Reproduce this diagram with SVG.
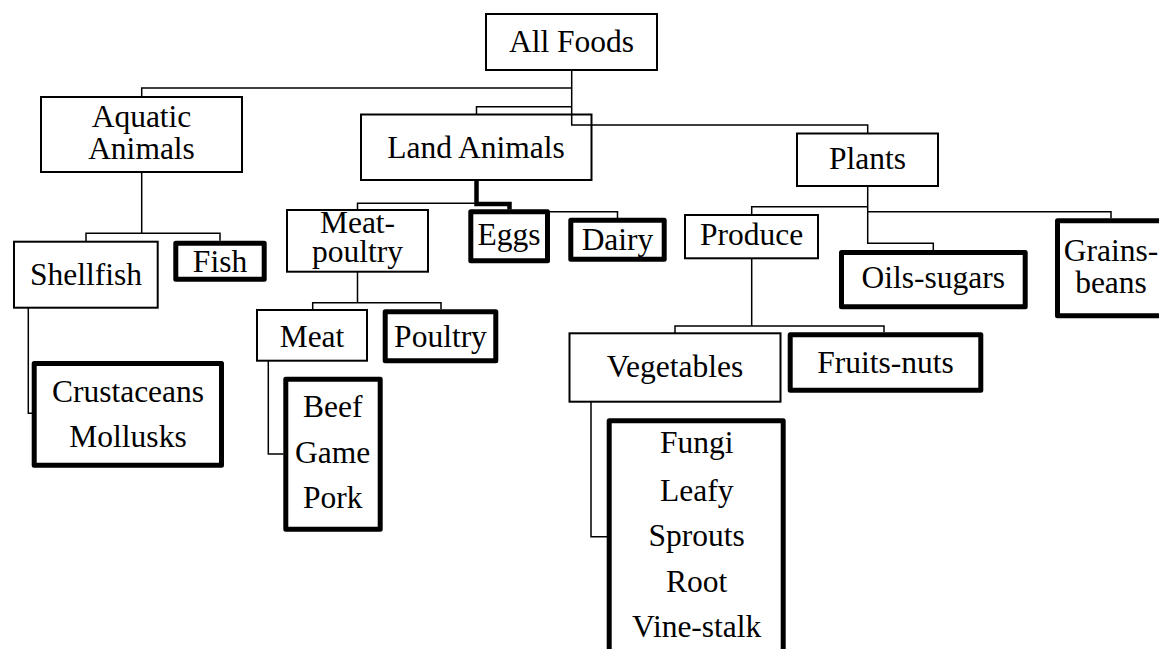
<svg xmlns="http://www.w3.org/2000/svg" width="1159" height="649" viewBox="0 0 1159 649">
<style>
.thin{fill:#fff;stroke:#000;stroke-width:2}
.thick{fill:#fff;stroke:#000;stroke-width:5;stroke-linejoin:round}
.c{fill:none;stroke:#000;stroke-width:1.5}
.ct{fill:none;stroke:#000;stroke-width:4.5}
</style>
<rect width="1159" height="649" fill="#fff"/>
<g id="nodes" font-family="Times New Roman, Liberation Serif, DejaVu Serif, serif" font-size="31.5" text-anchor="middle" fill="#000">
<g id="all-foods"><rect class="thin" x="486" y="14" width="171" height="56"/><text x="571.5" y="52">All Foods</text></g>
<g id="aquatic"><rect class="thin" x="41" y="97" width="201" height="75"/><text x="141.5" y="127">Aquatic</text><text x="141.5" y="159">Animals</text></g>
<g id="land"><rect class="thin" x="361" y="114.5" width="230.5" height="65.5"/><text x="476" y="158.3">Land Animals</text></g>
<g id="plants"><rect class="thin" x="797" y="133.5" width="141" height="52.5"/><text x="867.5" y="169.3">Plants</text></g>
<g id="shellfish"><rect class="thin" x="14" y="241.7" width="143.7" height="66"/><text x="86" y="285">Shellfish</text></g>
<g id="fish"><rect class="thick" x="175.8" y="243.2" width="88.4" height="36"/><text x="220" y="271.7">Fish</text></g>
<g id="crustaceans"><rect class="thick" x="34.2" y="363.5" width="187.3" height="101.7"/><text x="128" y="401.7">Crustaceans</text><text x="128" y="446.7">Mollusks</text></g>
<g id="meat-poultry"><rect class="thin" x="287" y="210" width="141" height="61.7"/><text x="357.5" y="233.3">Meat-</text><text x="357.5" y="261.7">poultry</text></g>
<g id="eggs"><rect class="thick" x="470.8" y="211.8" width="76.7" height="49"/><text x="509" y="245">Eggs</text></g>
<g id="dairy"><rect class="thick" x="570.8" y="220.2" width="93.4" height="39"/><text x="617.5" y="250">Dairy</text></g>
<g id="produce"><rect class="thin" x="685" y="215" width="133" height="43.3"/><text x="751.7" y="245">Produce</text></g>
<g id="oils"><rect class="thick" x="841.5" y="252.5" width="183.7" height="54.3"/><text x="933.3" y="288.3">Oils-sugars</text></g>
<g id="grains"><rect class="thick" x="1057.5" y="220.8" width="120" height="95"/><text x="1111" y="261">Grains-</text><text x="1111" y="293">beans</text></g>
<g id="meat"><rect class="thin" x="257" y="310" width="110" height="50.7"/><text x="312" y="346.7">Meat</text></g>
<g id="poultry"><rect class="thick" x="385.2" y="311.8" width="110.6" height="49"/><text x="440.5" y="346.7">Poultry</text></g>
<g id="meats-list"><rect class="thick" x="285.8" y="379.2" width="94.4" height="150"/><text x="332.7" y="416.7">Beef</text><text x="332.7" y="463.3">Game</text><text x="332.7" y="508.3">Pork</text></g>
<g id="vegetables"><rect class="thin" x="569.5" y="333.3" width="211" height="68.4"/><text x="675" y="377.3">Vegetables</text></g>
<g id="fruits"><rect class="thick" x="790.2" y="334.8" width="190.6" height="55.4"/><text x="885.5" y="372.7">Fruits-nuts</text></g>
<g id="veg-list"><rect class="thick" x="609.2" y="420.8" width="174" height="250"/><text x="696.7" y="453.3">Fungi</text><text x="696.7" y="500.7">Leafy</text><text x="696.7" y="545.7">Sprouts</text><text x="696.7" y="591.7">Root</text><text x="696.7" y="637.3">Vine-stalk</text></g>
</g>
<g id="connectors">
<path class="c" d="M571.7,70 V125 H867.7 V133.3 M571.7,88 H141.7 V96.7 M571.7,106.7 H476.5 V114.3"/>
<path class="c" d="M141.7,171.7 V233.3 H86 V241.7 M141.7,233.3 H220 V240.7"/>
<path class="c" d="M28.3,307.7 V413.3 H32"/>
<path class="c" d="M476.5,180 V203.3 H357.5 V210"/>
<path class="ct" d="M476.5,180 V204 H509.5 V209.5"/>
<path class="c" d="M550,211.7 H617.5 V218"/>
<path class="c" d="M357.5,271.7 V302.7 H312.7 V310 M357.5,302.7 H441 V309.3"/>
<path class="c" d="M268.3,360.7 V454 H283.5"/>
<path class="c" d="M867.7,186 V243.3 H933.3 V250 M867.7,206.7 H751.7 V215 M867.7,211.7 H1111 V218.3"/>
<path class="c" d="M751.7,258.3 V326 H675 V333.3 M751.7,326 H884 V332.3"/>
<path class="c" d="M591,401.7 V536.7 H607"/>
</g>
</svg>
